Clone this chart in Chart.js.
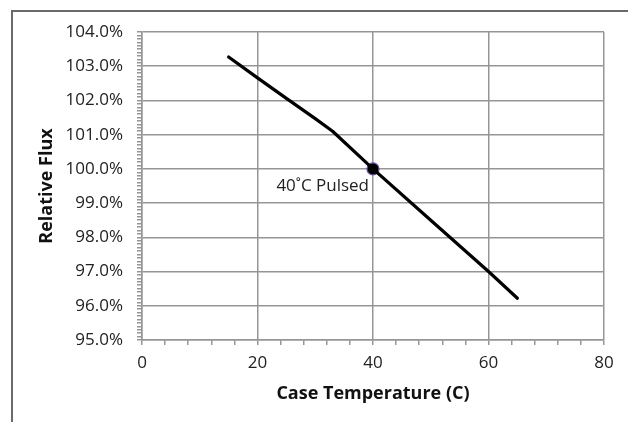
<!DOCTYPE html>
<html>
<head>
<meta charset="utf-8">
<script src="https://cdn.jsdelivr.net/npm/chart.js@4"></script>
<style>
html,body{margin:0;padding:0;background:#fff;}
#wrap{position:relative;width:628px;height:422px;overflow:hidden;}
#frame{position:absolute;left:11px;top:10px;width:700px;height:500px;border-left:2px solid #6a6a6a;border-top:2px solid #6a6a6a;box-sizing:border-box;}
canvas{position:absolute;left:0;top:0;}
</style>
</head>
<body>
<div id="wrap"><div id="frame"></div><canvas id="c" width="628" height="422"></canvas></div>
<script>
// Data
const temperatures = [15, 20, 25, 30, 33, 40, 50, 60, 65];
const relativeFlux = [103.27, 102.66, 102.06, 101.47, 101.1, 100.0, 98.5, 97.0, 96.22];
const markerTemp = [40];
const markerFlux = [100.0];
const markerLabel = "40˚C Pulsed";
const xAxisTitle = "Case Temperature (C)";
const yAxisTitle = "Relative Flux";

const FONT = "'Open Sans', 'DejaVu Sans', sans-serif";
const GRID = '#969696';
const isInt = (v, step) => Math.abs(v / step - Math.round(v / step)) < 1e-6;

const labelPlugin = {
  id: 'pointLabel',
  afterDatasetsDraw(chart) {
    const {ctx, scales} = chart;
    const px = scales.x.getPixelForValue(markerTemp[0]);
    const py = scales.y.getPixelForValue(markerFlux[0]);
    ctx.save();
    ctx.font = "17px " + FONT;
    ctx.fillStyle = '#222';
    ctx.textAlign = 'right';
    ctx.textBaseline = 'middle';
    ctx.fillText(markerLabel, px - 4, py + 17);
    ctx.restore();
  }
};

new Chart(document.getElementById('c'), {
  type: 'scatter',
  data: {
    datasets: [
      {
        data: temperatures.map((t, i) => ({x: t, y: relativeFlux[i]})),
        showLine: true,
        borderColor: '#000',
        borderWidth: 3.2,
        pointRadius: 0,
        tension: 0,
        borderCapStyle: 'round',
        borderJoinStyle: 'round'
      },
      {
        data: markerTemp.map((t, i) => ({x: t, y: markerFlux[i]})),
        showLine: false,
        pointRadius: 6,
        pointBackgroundColor: '#000',
        pointBorderColor: '#6b4f9a',
        pointBorderWidth: 1.2
      }
    ]
  },
  options: {
    responsive: false,
    animation: false,
    devicePixelRatio: 1,
    layout: {padding: {left: 0, top: 32, right: 24, bottom: 0}},
    plugins: {legend: {display: false}, tooltip: {enabled: false}},
    scales: {
      x: {
        type: 'linear',
        min: 0, max: 80,
        afterFit(s) { s.height = 82; },
        border: {color: GRID, width: 1.5},
        grid: {
          color: c => isInt(c.tick.value, 20) ? GRID : 'rgba(0,0,0,0)',
          tickColor: GRID,
          lineWidth: 1.5,
          tickLength: 5,
          drawTicks: true
        },
        ticks: {
          stepSize: 4,
          autoSkip: false,
          maxRotation: 0,
          padding: 8,
          color: '#222',
          font: {family: FONT, size: 17},
          callback: v => isInt(v, 20) ? String(Math.round(v)) : ''
        },
        title: {
          display: true,
          text: xAxisTitle,
          color: '#111',
          font: {family: FONT, size: 18, weight: 'bold'},
          padding: {top: 0, bottom: 17}
        }
      },
      y: {
        type: 'linear',
        min: 95, max: 104,
        afterFit(s) { s.width = 142; },
        border: {color: GRID, width: 1.5},
        grid: {
          color: c => isInt(c.tick.value, 1) ? GRID : 'rgba(0,0,0,0)',
          tickColor: GRID,
          lineWidth: 1.5,
          tickLength: 5,
          drawTicks: true
        },
        ticks: {
          stepSize: 0.1,
          autoSkip: false,
          padding: 14,
          color: '#222',
          font: {family: FONT, size: 17},
          callback: v => isInt(v, 1) ? v.toFixed(1) + '%' : ''
        },
        title: {
          display: true,
          text: yAxisTitle,
          color: '#111',
          font: {family: FONT, size: 18, weight: 'bold'},
          padding: {top: 36, bottom: 0}
        }
      }
    }
  },
  plugins: [labelPlugin]
});
</script>
</body>
</html>
